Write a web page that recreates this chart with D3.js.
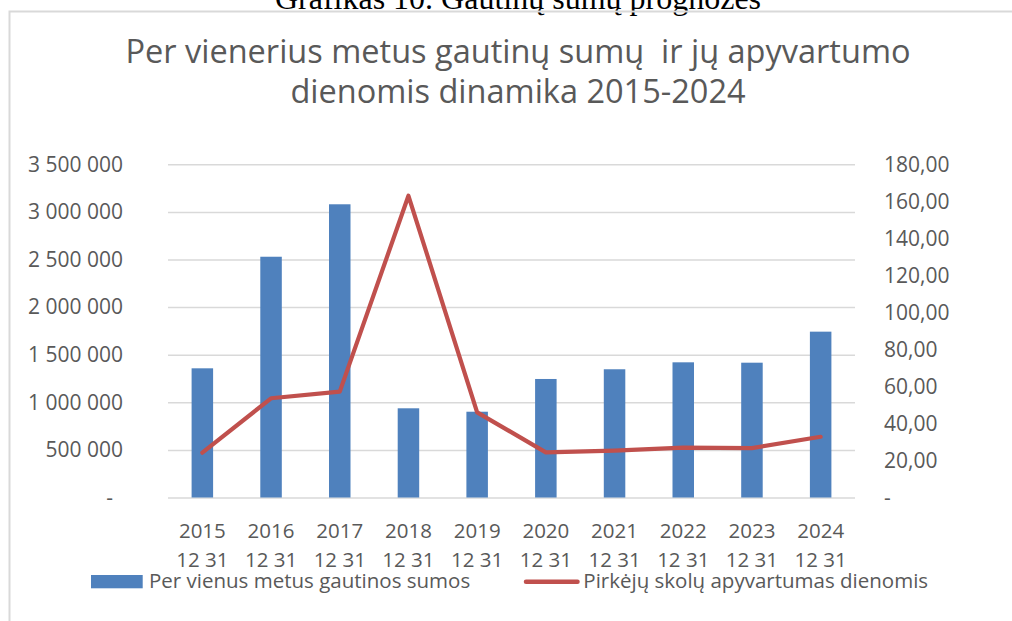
<!DOCTYPE html>
<html>
<head>
<meta charset="utf-8">
<script src="https://cdn.jsdelivr.net/npm/d3@7"></script>
<style>
  body { margin: 0; background: #fff; }
  svg { display: block; }
  text { font-family: "Open Sans", sans-serif; fill: #595959; }
</style>
</head>
<body>
<div id="chart"></div>
<script>
// data
const categories = ["2015 12 31", "2016 12 31", "2017 12 31", "2018 12 31", "2019 12 31",
                    "2020 12 31", "2021 12 31", "2022 12 31", "2023 12 31", "2024 12 31"];
const sums = [1357000, 2529000, 3080000, 937000, 901000, 1245000, 1347000, 1420000, 1416000, 1742000];
const turnoverDays = [24.2, 53.6, 57.2, 163, 46.0, 24.4, 25.3, 26.9, 26.7, 32.8];
const leftTicks = [0, 500000, 1000000, 1500000, 2000000, 2500000, 3000000, 3500000];
const rightTicks = [0, 20, 40, 60, 80, 100, 120, 140, 160, 180];
const seriesNames = ["Per vienus metus gautinos sumos", "Pirkėjų skolų apyvartumas dienomis"];
const titleLines = ["Per vienerius metus gautinų sumų  ir jų apyvartumo", "dienomis dinamika 2015-2024"];
const caption = "Grafikas 10. Gautinų sumų prognozės";

const width = 1012, height = 621;
const plot = { left: 168, right: 855, top: 164.3, bottom: 497.5 };
const barColor = "#4F81BD", lineColor = "#C0504D", gridColor = "#D9D9D9";

const svg = d3.select("#chart").append("svg")
  .attr("width", width)
  .attr("height", height);

// caption above the chart frame (cut at the top of the page)
svg.append("text")
  .attr("x", 518).attr("y", 8.5)
  .attr("text-anchor", "middle")
  .style("font-family", "'Liberation Serif', serif")
  .style("font-size", "32px")
  .style("fill", "#000")
  .text(caption);

// chart frame
svg.append("path")
  .attr("d", "M9.5,621V11.5H1012")
  .attr("fill", "none")
  .attr("stroke", gridColor)
  .attr("stroke-width", 2);

// title (keeps the double space of the original)
svg.append("text")
  .attr("text-anchor", "middle")
  .style("font-size", "32.5px")
  .style("white-space", "pre")
  .selectAll("tspan")
  .data(titleLines)
  .join("tspan")
  .attr("x", 518)
  .attr("y", (d, i) => 63.3 + i * 40)
  .text(d => d);

const x = d3.scaleBand()
  .domain(categories)
  .range([plot.left, plot.right])
  .paddingInner(0.687)
  .paddingOuter(0.3435);

const yLeft = d3.scaleLinear().domain([0, 3500000]).range([plot.bottom, plot.top]);
const yRight = d3.scaleLinear().domain([0, 180]).range([plot.bottom, plot.top]);

const fmtLeft = v => v === 0 ? "-" : d3.format(",")(v).replace(/,/g, " ");
const fmtRight = v => v === 0 ? "-" : d3.format(".2f")(v).replace(".", ",");

// gridlines
const grid = svg.append("g")
  .attr("transform", `translate(${plot.left},0)`)
  .call(d3.axisLeft(yLeft).tickValues(leftTicks).tickSize(-(plot.right - plot.left)).tickFormat(""));
grid.select(".domain").remove();
grid.selectAll("line").attr("stroke", gridColor).attr("stroke-width", 1.5);

// left axis
const axL = svg.append("g")
  .attr("transform", `translate(${plot.left},0)`)
  .call(d3.axisLeft(yLeft).tickValues(leftTicks).tickSize(0).tickPadding(45).tickFormat(fmtLeft));
axL.select(".domain").remove();
axL.selectAll("text")
  .style("font-size", "21px").style("font-family", null).attr("fill", null)
  .attr("dx", d => d === 0 ? -10 : 0);

// right axis
const axR = svg.append("g")
  .attr("transform", `translate(${plot.right},0)`)
  .call(d3.axisRight(yRight).tickValues(rightTicks).tickSize(0).tickPadding(29).tickFormat(fmtRight));
axR.select(".domain").remove();
axR.selectAll("text")
  .style("font-size", "21px").style("font-family", null).attr("fill", null);

// bottom axis, two-line labels
const axB = svg.append("g")
  .attr("transform", `translate(0,${plot.bottom})`)
  .call(d3.axisBottom(x).tickSize(0).tickFormat(""));
axB.select(".domain").remove();
axB.selectAll(".tick").append("text")
  .attr("text-anchor", "middle")
  .style("font-size", "20.5px")
  .selectAll("tspan")
  .data(d => [d.slice(0, 4), d.slice(5)])
  .join("tspan")
  .attr("x", 0)
  .attr("y", (d, i) => 40 + i * 29.5)
  .text(d => d);

// bars
svg.append("g")
  .selectAll("rect")
  .data(sums)
  .join("rect")
  .attr("x", (d, i) => x(categories[i]))
  .attr("y", d => yLeft(d))
  .attr("width", x.bandwidth())
  .attr("height", d => yLeft(0) - yLeft(d))
  .attr("fill", barColor);

// line
const line = d3.line()
  .x((d, i) => x(categories[i]) + x.bandwidth() / 2)
  .y(d => yRight(d));

svg.append("path")
  .datum(turnoverDays)
  .attr("d", line)
  .attr("fill", "none")
  .attr("stroke", lineColor)
  .attr("stroke-width", 4.2)
  .attr("stroke-linejoin", "round")
  .attr("stroke-linecap", "round");

// legend
const legend = svg.append("g");
legend.append("rect")
  .attr("x", 91).attr("y", 575)
  .attr("width", 51.7).attr("height", 13.3)
  .attr("fill", barColor);
legend.append("text")
  .attr("x", 149).attr("y", 588.3)
  .style("font-size", "20.5px")
  .text(seriesNames[0]);
legend.append("line")
  .attr("x1", 526).attr("x2", 577.5)
  .attr("y1", 581.7).attr("y2", 581.7)
  .attr("stroke", lineColor)
  .attr("stroke-width", 4.5)
  .attr("stroke-linecap", "round");
legend.append("text")
  .attr("x", 583.3).attr("y", 588.3)
  .style("font-size", "20.5px")
  .text(seriesNames[1]);
</script>
</body>
</html>
